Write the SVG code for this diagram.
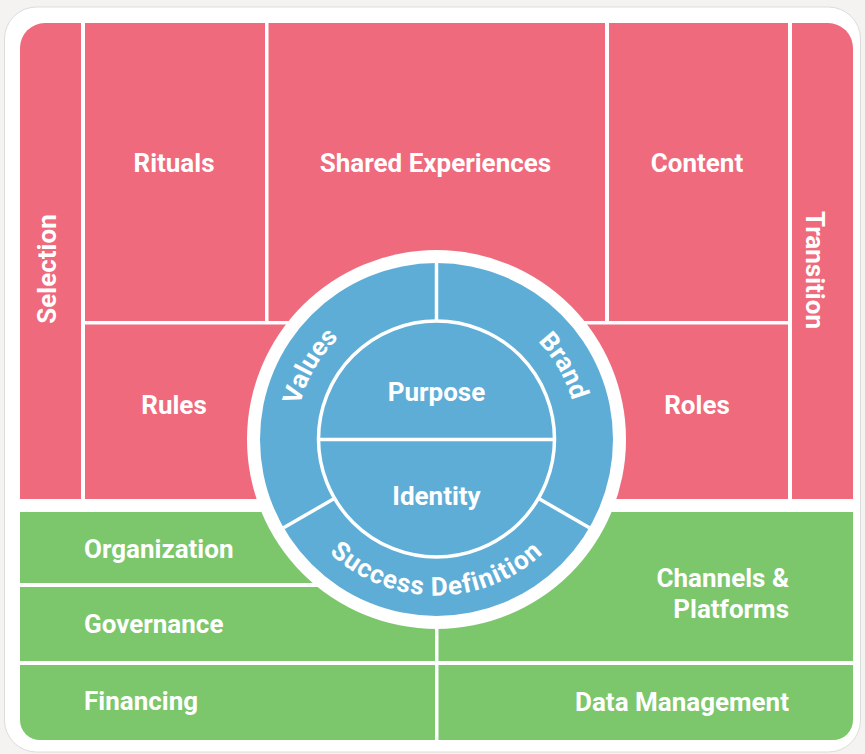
<svg xmlns="http://www.w3.org/2000/svg" width="865" height="754" viewBox="0 0 865 754">
<defs>
<style>
.red{fill:#EE6A7C}
.green{fill:#7CC66C}
.blue{fill:#5EADD6}
.lbl{font-family:Roboto,"Liberation Sans",sans-serif;font-weight:bold;font-size:26px;fill:#fff}
.mid{text-anchor:middle}
.end{text-anchor:end}
.wl{stroke:#fff;stroke-width:3.5;fill:none}
</style>
<path id="arcValues" d="M314.4,510 A141,141 0 0 1 436.5,298.5"/>
<path id="arcBrand" d="M436.5,298.5 A141,141 0 0 1 558.6,510"/>
<path id="arcSuccess" d="M301.4,517.5 A156,156 0 0 0 571.6,517.5"/>
</defs>
<rect width="865" height="754" fill="#F4F3F1"/>
<rect x="4.5" y="7" width="856" height="745" rx="32" fill="#fff" stroke="#DCDCDC"/>

<g id="selection"><path class="red" d="M20,499 V48 A25,25 0 0 1 45,23 H81 V499 Z"/><text class="lbl mid" transform="translate(56,269) rotate(-90)">Selection</text></g>
<g id="rituals"><rect class="red" x="85" y="23" width="180" height="298"/><text class="lbl mid" x="174" y="172">Rituals</text></g>
<g id="shared-experiences"><rect class="red" x="268.5" y="23" width="336.5" height="298"/><text class="lbl mid" x="435.5" y="172">Shared Experiences</text></g>
<g id="content"><rect class="red" x="609" y="23" width="179" height="298"/><text class="lbl mid" x="697" y="172">Content</text></g>
<g id="transition"><path class="red" d="M792,23 H828 A25,25 0 0 1 853,48 V499 H792 Z"/><text class="lbl mid" transform="translate(806,270) rotate(90)">Transition</text></g>
<g id="rules"><rect class="red" x="85" y="324.5" width="351" height="174.5"/><text class="lbl mid" x="174" y="414">Rules</text></g>
<g id="roles"><rect class="red" x="436" y="324.5" width="352" height="174.5"/><text class="lbl mid" x="697" y="414">Roles</text></g>

<g id="organization"><rect class="green" x="20" y="512" width="415" height="71"/><text class="lbl" x="84" y="558">Organization</text></g>
<g id="governance"><rect class="green" x="20" y="587" width="415" height="74"/><text class="lbl" x="84" y="633">Governance</text></g>
<g id="financing"><path class="green" d="M20,665 H435 V740 H40 A20,20 0 0 1 20,720 Z"/><text class="lbl" x="84" y="710">Financing</text></g>
<g id="channels-platforms"><rect class="green" x="438.5" y="512" width="414.5" height="149"/><text class="lbl end" x="789" y="587">Channels &amp;</text><text class="lbl end" x="789" y="618">Platforms</text></g>
<g id="data-management"><path class="green" d="M438.5,665 H853 V720 A20,20 0 0 1 833,740 H438.5 Z"/><text class="lbl end" x="789" y="711">Data Management</text></g>

<g id="core">
<circle cx="436.5" cy="439.5" r="189.5" fill="#fff"/>
<circle class="blue" cx="436.5" cy="439.5" r="176.5"/>
<circle class="wl" cx="436.5" cy="439" r="118"/>
<line class="wl" x1="318.5" y1="439.5" x2="554.5" y2="439.5"/>
<line class="wl" x1="436.5" y1="262" x2="436.5" y2="321.5"/>
<line class="wl" x1="334.3" y1="498.5" x2="283.6" y2="527.8"/>
<line class="wl" x1="538.7" y1="498.5" x2="589.4" y2="527.8"/>
</g>
<g id="values"><text class="lbl mid"><textPath href="#arcValues" startOffset="50%">Values</textPath></text></g>
<g id="brand"><text class="lbl mid"><textPath href="#arcBrand" startOffset="50%">Brand</textPath></text></g>
<g id="success-definition"><text class="lbl mid" letter-spacing="1"><textPath href="#arcSuccess" startOffset="50%">Success Definition</textPath></text></g>
<g id="purpose"><text class="lbl mid" x="436.5" y="401">Purpose</text></g>
<g id="identity"><text class="lbl mid" x="436.5" y="505">Identity</text></g>
<g id="connectors"/>
</svg>
